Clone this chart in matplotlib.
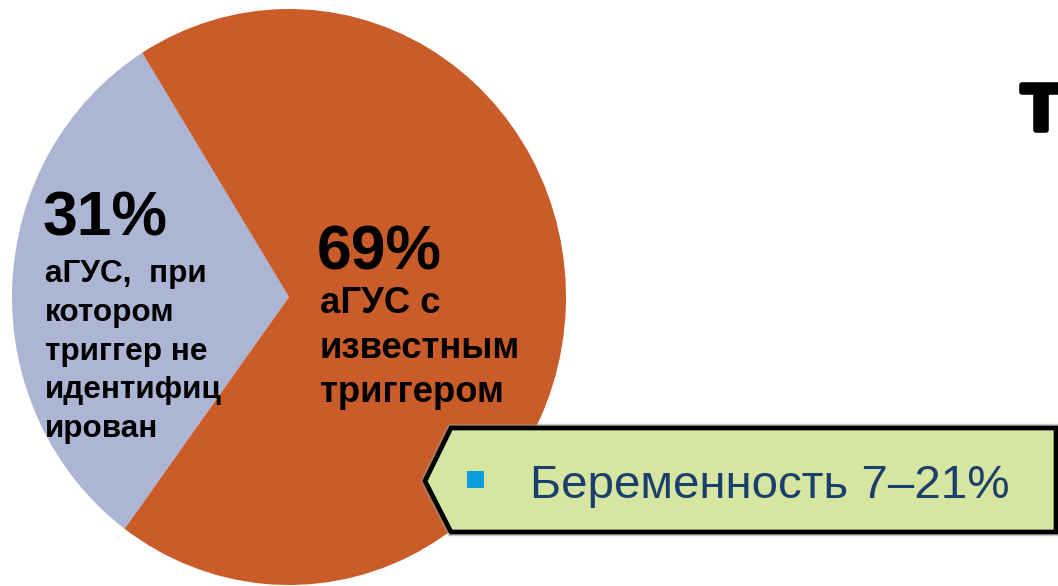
import matplotlib
matplotlib.use("Agg")
import matplotlib.pyplot as plt
from matplotlib.patches import Polygon, Rectangle
import matplotlib.patheffects as pe

# ---- data -------------------------------------------------------------
shares = [31, 69]
share_labels = ["31%", "69%"]
unknown_lines = ["аГУС,  при", "котором", "триггер не", "идентифиц", "ирован"]
known_lines = ["аГУС с", "известным", "триггером"]
callout_text = "Беременность 7–21%"
title_fragment = "Т"

# ---- styles -----------------------------------------------------------
LAVENDER = "#ADB5D4"
ORANGE = "#C95C28"
CALLOUT_FILL = "#D6E6A0"
CALLOUT_TEXT = "#1B3F6D"
BULLET = "#0A9FDC"
FONT = "Liberation Sans"

W, H = 1058, 586
fig = plt.figure(figsize=(W / 100, H / 100), dpi=100)

# slightly tall elliptical pie: its own axes with free aspect
cx, cy, rx, ry = 289, 297, 277, 288
pie_ax = fig.add_axes([(cx - rx) / W, (H - cy - ry) / H, 2 * rx / W, 2 * ry / H])
pie_ax.pie(shares, colors=[LAVENDER, ORANGE], startangle=122, counterclock=True,
           radius=1, wedgeprops=dict(linewidth=0))
pie_ax.set_aspect("auto")
pie_ax.set_xlim(-1, 1)
pie_ax.set_ylim(-1, 1)
pie_ax.axis("off")
pie_ax.patch.set_alpha(0)

# overlay in pixel coordinates (origin top-left)
ax = fig.add_axes([0, 0, 1, 1])
ax.set_xlim(0, W)
ax.set_ylim(H, 0)
ax.axis("off")
ax.patch.set_alpha(0)

# percentage labels
ax.text(43, 235, share_labels[0], fontsize=45, fontweight="bold", family=FONT,
        ha="left", va="baseline", color="black")
ax.text(317, 270, share_labels[1], fontsize=45, fontweight="bold", family=FONT,
        ha="left", va="baseline", color="black")

# category descriptions
for i, line in enumerate(unknown_lines):
    ax.text(45, 282 + i * 38.8, line, fontsize=22.7, fontweight="bold",
            family=FONT, ha="left", va="baseline", color="black")
for i, line in enumerate(known_lines):
    ax.text(320, 313 + i * 44.5, line, fontsize=26.3, fontweight="bold",
            family=FONT, ha="left", va="baseline", color="black")

# callout arrow box
pts = [(425, 481), (451, 428), (1056, 428), (1056, 532), (451, 532)]
ax.add_patch(Polygon(pts, closed=True, facecolor="none", edgecolor="#9a9a9a",
                     linewidth=6, alpha=0.55, joinstyle="miter", zorder=3))
ax.add_patch(Polygon(pts, closed=True, facecolor=CALLOUT_FILL, edgecolor="black",
                     linewidth=3.4, joinstyle="miter", zorder=4))
ax.add_patch(Rectangle((467, 471), 17, 17, facecolor=BULLET, edgecolor="none",
                       zorder=5))
ax.text(530, 498, callout_text, fontsize=34.2, family=FONT, color=CALLOUT_TEXT,
        ha="left", va="baseline", zorder=6)

# heading fragment at the right edge
ax.text(1021, 130, title_fragment, fontsize=47, fontweight="bold", family=FONT,
        ha="left", va="baseline", color="black",
        path_effects=[pe.withStroke(linewidth=4, foreground="black")])

fig.savefig("out.png", dpi=100, facecolor="white")
